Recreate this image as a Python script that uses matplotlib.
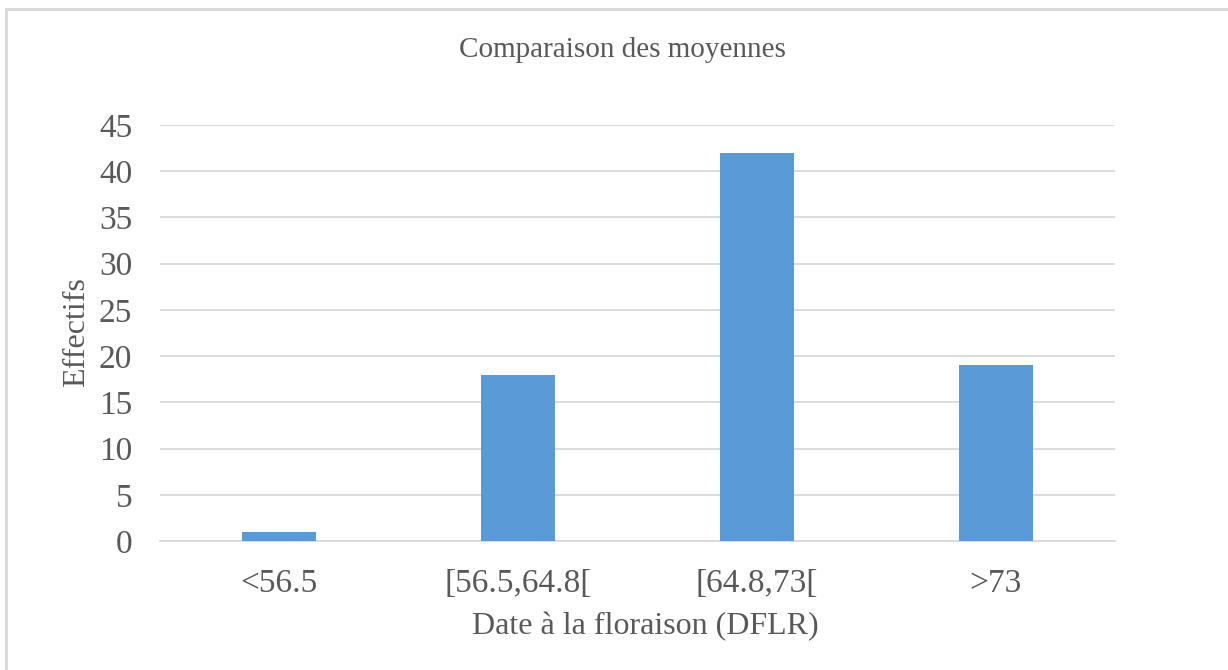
import numpy as np
import matplotlib.pyplot as plt
from matplotlib.patches import Rectangle

# data
classes = ['<56.5', '[56.5,64.8[', '[64.8,73[', '>73']
effectifs = [1, 18, 42, 19]
yticks = [0, 5, 10, 15, 20, 25, 30, 35, 40, 45]

plt.rcParams['font.family'] = ['Liberation Serif', 'DejaVu Serif']
grey = '#595959'

W, H = 1228, 670
fig = plt.figure(figsize=(W / 100, H / 100), dpi=100)
ax = fig.add_axes([160 / W, 1 - 541 / H, (1115 - 160) / W, (541 - 125) / H])

x = np.arange(len(classes))
ax.bar(x, effectifs, width=0.31, color='#5B9BD5', zorder=3)

ax.set_xlim(-0.5, len(classes) - 0.5)
ax.set_ylim(0, 45)
ax.set_yticks(yticks)
ax.set_xticks(x)
ax.set_xticklabels(classes)
ax.grid(axis='y', color='#D9D9D9', linewidth=1.3, zorder=0)
for s in ['top', 'right', 'left']:
    ax.spines[s].set_visible(False)
ax.spines['bottom'].set_color('#D9D9D9')
ax.spines['bottom'].set_linewidth(1.3)
ax.tick_params(axis='both', length=0, colors=grey, labelsize=24)
ax.tick_params(axis='y', pad=20)
ax.tick_params(axis='x', pad=20)

fig.text(622 / W, 1 - 50 / H, 'Comparaison des moyennes', ha='center', va='center',
         fontsize=21, color=grey)
fig.text(645 / W, 1 - 627 / H, 'Date à la floraison (DFLR)', ha='center', va='center',
         fontsize=23, color=grey)
fig.text(77 / W, 1 - 332 / H, 'Effectifs', ha='center', va='center', rotation=90,
         fontsize=23, color=grey)

# chart-area border
fig.patches.append(Rectangle((6 / W, -0.1), 1.2, 1 - 9 / H + 0.1, transform=fig.transFigure,
                             fill=False, edgecolor='#D9D9D9', linewidth=2))

fig.savefig('out.png', dpi=100)
